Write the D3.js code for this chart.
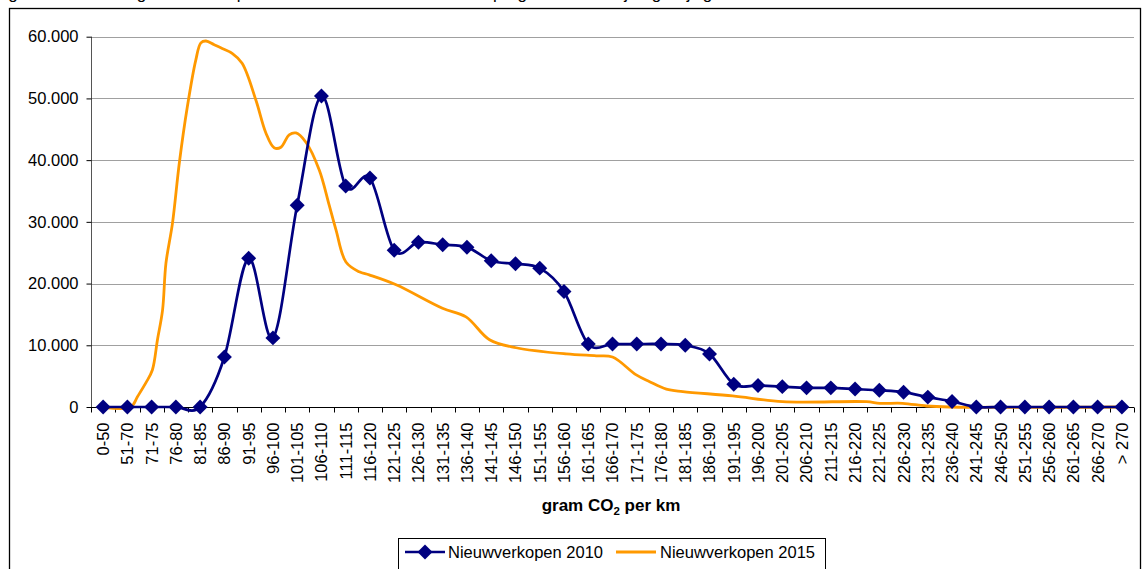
<!DOCTYPE html>
<html>
<head>
<meta charset="utf-8">
<script src="https://cdn.jsdelivr.net/npm/d3@7/dist/d3.min.js"></script>
<style>
  html, body { margin: 0; padding: 0; background: #fff; }
  svg { display: block; font-family: "Liberation Sans", Arial, sans-serif; }
</style>
</head>
<body>
<svg id="chart" width="1143" height="569"></svg>
<script>
// ---- data ----
const categories = ["0-50","51-70","71-75","76-80","81-85","86-90","91-95","96-100","101-105","106-110",
  "111-115","116-120","121-125","126-130","131-135","136-140","141-145","146-150","151-155","156-160",
  "161-165","166-170","171-175","176-180","181-185","186-190","191-195","196-200","201-205","206-210",
  "211-215","216-220","221-225","226-230","231-235","236-240","241-245","246-250","251-255","256-260",
  "261-265","266-270","> 270"];

const sales2010 = [0,0,0,0,0,8100,24100,11200,32700,50400,
  35800,37100,25400,26700,26300,25900,23700,23200,22500,18700,
  10200,10200,10200,10200,10000,8600,3700,3500,3300,3100,
  3100,2900,2700,2400,1600,900,0,0,0,0,
  0,0,0];

// 2015 curve at positions along the category axis (category index units)
const pos2015 = [0,1.14,1.42,1.76,2.03,2.24,2.45,2.59,2.86,3.14,3.47,3.82,4.03,4.24,4.58,4.91,5.32,5.73,
  6.30,6.71,7.05,7.33,7.67,7.95,8.36,8.91,9.32,9.60,10.01,10.56,10.97,12.08,13.99,14.96,15.93,17.03,
  19.09,20.33,21.0,21.98,22.53,23.22,23.9,25.95,28.01,31.47,32.02,32.96,33.94,34.9,42];
const sales2015 = [0,0,1700,3900,6000,10900,15700,23300,29800,39500,48600,56200,59000,59300,58700,58100,57300,55700,
  49700,44400,42000,42100,44100,44400,42900,38400,32700,28700,23500,21900,21400,19800,16000,14600,10900,9600,
  8600,8300,8100,5200,4100,2900,2500,1800,860,860,600,600,160,0,0];

const yTicks = [0,10000,20000,30000,40000,50000,60000];
const seriesNames = ["Nieuwverkopen 2010","Nieuwverkopen 2015"];
const titleText = "Figuur 4.2 Verdeling nieuwverkopen naar CO2-uitstoot in 2010 en prognose 2015 bij ongewijzigd beleid";

// ---- drawing ----
(function () {
const svg = d3.select("#chart");
const navy = "#000080", orange = "#FF9900";

const pLeft = 91, pRight = 1134, pTop = 36.7, pBottom = 407;

const x = d3.scaleBand().domain(categories).range([pLeft, pRight]).paddingInner(0).paddingOuter(0);
const bw = x.bandwidth();
const xc = c => x(c) + bw / 2;
const xi = d3.scaleLinear().domain([0, categories.length - 1]).range([pLeft + bw/2, pRight - bw/2]);
const xb = d3.scaleLinear().domain([-0.5, categories.length - 0.5]).range([pLeft, pRight]);
const y = d3.scaleLinear().domain([0, 60000]).range([pBottom, pTop]);

const nl = d3.formatLocale({decimal: ",", thousands: ".", grouping: [3], currency: ["", ""]});
const fmt = nl.format(",d");

// clipped title (only descenders visible, as in the reference)
svg.append("text").attr("x", -6).attr("y", -1.5).attr("font-size", 17).attr("fill", "#000").text(titleText);

// outer frame
svg.append("rect").attr("x", 9.5).attr("y", 8.5).attr("width", 1131).attr("height", 620)
  .attr("fill", "none").attr("stroke", "#000").attr("stroke-width", 1.3);

// gridlines
svg.append("g").selectAll("line").data(yTicks.filter(d => d > 0)).join("line")
  .attr("x1", pLeft).attr("x2", pRight)
  .attr("y1", d => Math.round(y(d)) + 0.5).attr("y2", d => Math.round(y(d)) + 0.5)
  .attr("stroke", "#a0a0a0").attr("stroke-width", 1.2);

// y axis
const yAxis = d3.axisLeft(y).tickValues(yTicks).tickFormat(fmt).tickSize(5).tickPadding(8);
const gy = svg.append("g").attr("transform", `translate(${pLeft + 0.5},0)`).call(yAxis);
gy.select(".domain").attr("stroke", "#555").attr("d", `M0,${pTop}V${pBottom}`);
gy.selectAll(".tick line").attr("stroke", "#000");
gy.selectAll(".tick text").attr("font-size", 16.5).attr("font-family", "Liberation Sans, Arial, sans-serif").attr("fill", "#000");

// x axis
const gx = svg.append("g").attr("transform", `translate(0,${pBottom + 0.5})`);
gx.append("line").attr("x1", pLeft).attr("x2", pRight).attr("stroke", "#000");
gx.selectAll(".xt").data(d3.range(categories.length + 1)).join("line").attr("class", "xt")
  .attr("x1", i => Math.round(xb(i - 0.5)) + 0.5).attr("x2", i => Math.round(xb(i - 0.5)) + 0.5)
  .attr("y1", 0).attr("y2", 5).attr("stroke", "#000");
gx.selectAll(".xl").data(categories).join("text").attr("class", "xl")
  .attr("transform", c => `translate(${xc(c)},15) rotate(-90)`)
  .attr("text-anchor", "end").attr("dy", "0.36em")
  .attr("font-size", 16.5).attr("fill", "#000").text(c => c);

// axis title
const at = svg.append("text").attr("x", 611).attr("y", 511).attr("text-anchor", "middle")
  .attr("font-size", 17).attr("font-weight", "bold").attr("fill", "#000");
at.append("tspan").text("gram CO");
at.append("tspan").attr("font-size", 11.5).attr("dy", 4).text("2");
at.append("tspan").attr("dy", -4).text(" per km");

// series 2015
const pts2015 = pos2015.map((p, i) => [xi(p), y(sales2015[i])]);
svg.append("path").attr("d", d3.line().curve(d3.curveCatmullRom.alpha(0.5))(pts2015))
  .attr("fill", "none").attr("stroke", orange).attr("stroke-width", 2.8).attr("stroke-linejoin", "round");

// series 2010
const line2010 = d3.line().x((d, i) => xc(categories[i])).y(d => y(d)).curve(d3.curveCatmullRom.alpha(0));
svg.append("path").attr("d", line2010(sales2010))
  .attr("fill", "none").attr("stroke", navy).attr("stroke-width", 2.7).attr("stroke-linejoin", "round");

const diamond = d3.symbol(d3.symbolSquare, 112);
svg.append("g").selectAll("path").data(sales2010).join("path")
  .attr("d", diamond)
  .attr("transform", (d, i) => `translate(${xc(categories[i])},${y(d)}) rotate(45)`)
  .attr("fill", navy);

// legend
const lg = svg.append("g");
lg.append("rect").attr("x", 398.5).attr("y", 538.5).attr("width", 427).attr("height", 31)
  .attr("fill", "#fff").attr("stroke", "#000").attr("stroke-width", 1);
const ly = 552;
lg.append("line").attr("x1", 405).attr("x2", 445).attr("y1", ly).attr("y2", ly).attr("stroke", navy).attr("stroke-width", 2.7);
lg.append("path").attr("d", diamond).attr("transform", `translate(425,${ly}) rotate(45)`).attr("fill", navy);
lg.append("text").attr("x", 448).attr("y", ly).attr("dy", "0.36em").attr("font-size", 16.5).text(seriesNames[0]);
lg.append("line").attr("x1", 616).attr("x2", 656).attr("y1", ly).attr("y2", ly).attr("stroke", orange).attr("stroke-width", 2.8);
lg.append("text").attr("x", 660).attr("y", ly).attr("dy", "0.36em").attr("font-size", 16.5).text(seriesNames[1]);
})();
</script>
</body>
</html>
